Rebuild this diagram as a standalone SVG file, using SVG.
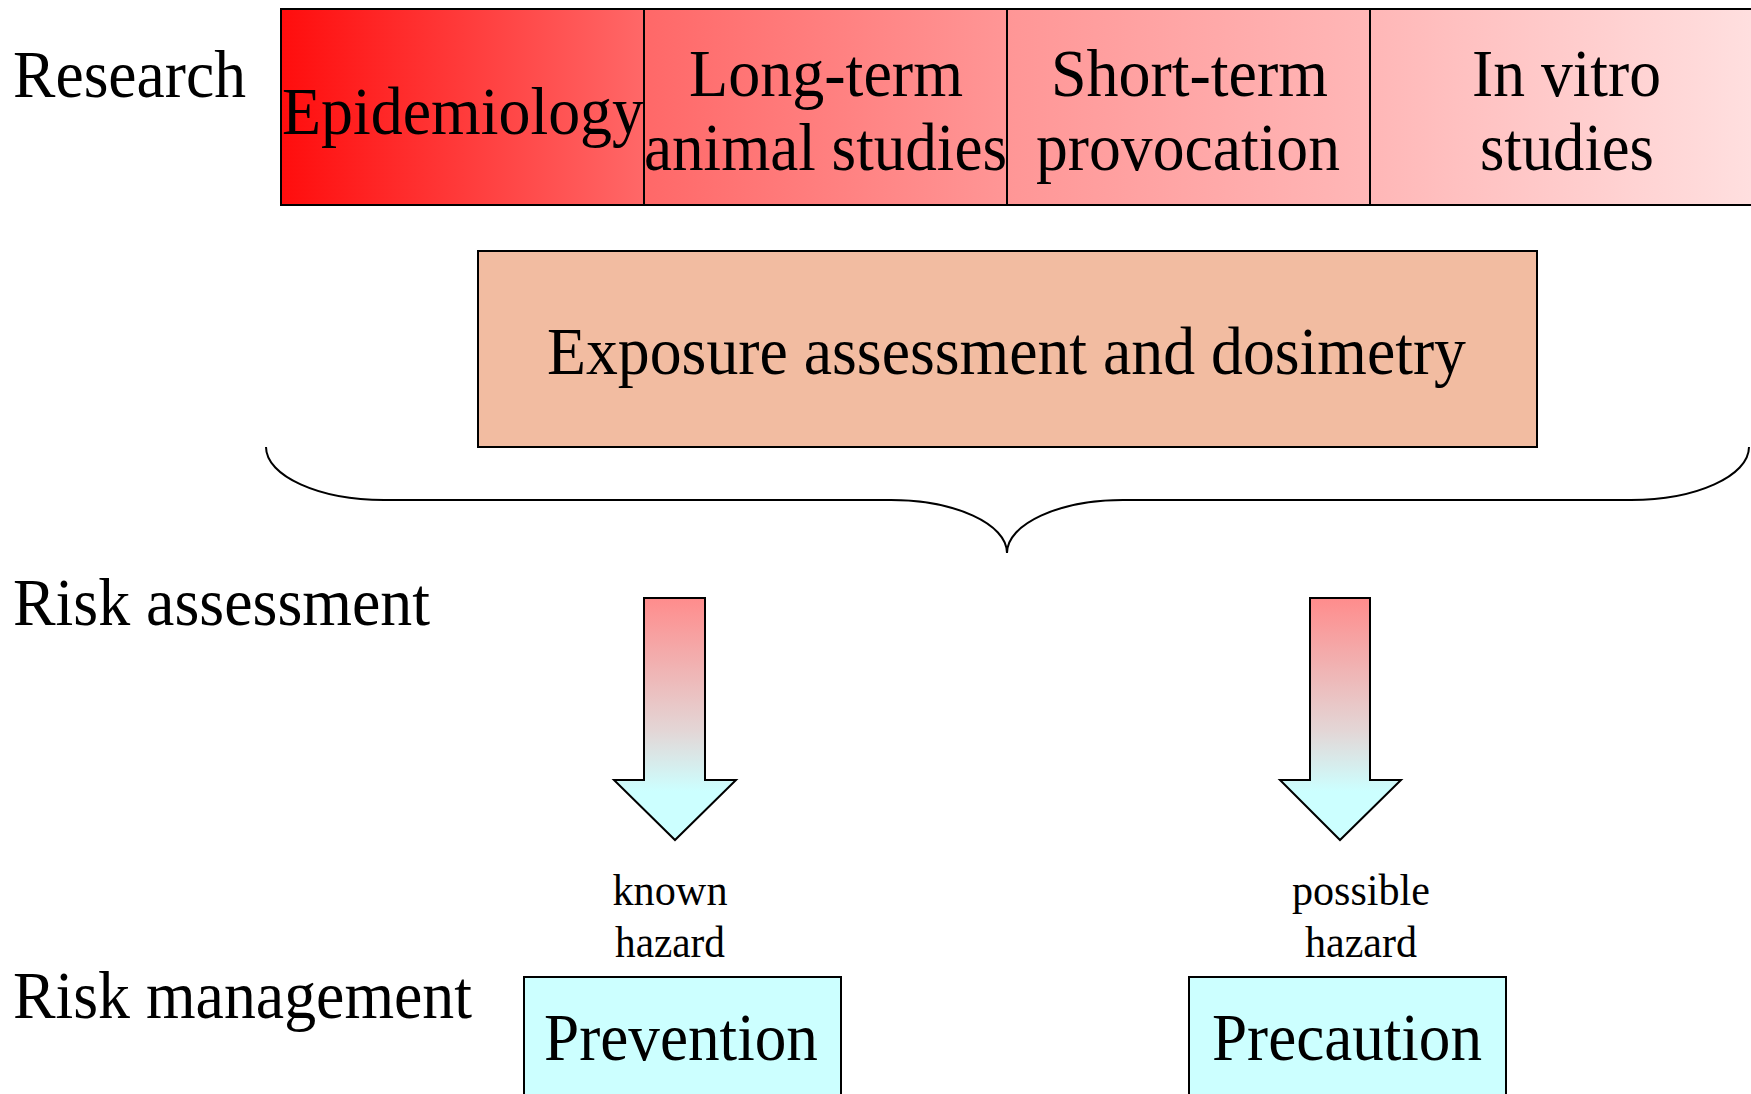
<svg xmlns="http://www.w3.org/2000/svg" width="1751" height="1094" viewBox="0 0 1751 1094">
<style>
text{font-family:"Liberation Serif","Times New Roman",serif;fill:#000}
.big{font-size:68px}
.small{font-size:45px}
.box{stroke:#000;stroke-width:2}
.c{text-anchor:middle}
</style>
<defs>
<linearGradient id="barGrad" gradientUnits="userSpaceOnUse" x1="281" y1="0" x2="1751" y2="0">
<stop offset="0" stop-color="#ff0d0d"/>
<stop offset="0.247" stop-color="#ff6868"/>
<stop offset="0.494" stop-color="#ff9696"/>
<stop offset="0.741" stop-color="#ffb7b7"/>
<stop offset="1" stop-color="#ffdfdf"/>
</linearGradient>
<linearGradient id="arrowGrad" x1="0" y1="0" x2="0" y2="1">
<stop offset="0" stop-color="#ff8c8c"/>
<stop offset="0.55" stop-color="#e3d6d6"/>
<stop offset="0.8" stop-color="#ccffff"/>
<stop offset="1" stop-color="#ccffff"/>
</linearGradient>
</defs>
<rect width="1751" height="1094" fill="#fff"/>

<g id="labels">
<text class="big" x="13" y="97" textLength="233" lengthAdjust="spacingAndGlyphs">Research</text>
<text class="big" x="13" y="625" textLength="417" lengthAdjust="spacingAndGlyphs">Risk assessment</text>
<text class="big" x="13" y="1018" textLength="459" lengthAdjust="spacingAndGlyphs">Risk management</text>
</g>

<g id="research-bar">
<rect x="281" y="9" width="1472" height="196" fill="url(#barGrad)" class="box"/>
</g>
<g id="epidemiology">
<rect x="281" y="9" width="363" height="196" fill="none" class="box"/>
<text class="big" x="282" y="134" textLength="362" lengthAdjust="spacingAndGlyphs">Epidemiology</text>
</g>
<g id="long-term">
<rect x="644" y="9" width="363" height="196" fill="none" class="box"/>
<text class="big" x="689" y="96" textLength="274" lengthAdjust="spacingAndGlyphs">Long-term</text>
<text class="big" x="644" y="170" textLength="363" lengthAdjust="spacingAndGlyphs">animal studies</text>
</g>
<g id="short-term">
<rect x="1007" y="9" width="363" height="196" fill="none" class="box"/>
<text class="big" x="1051" y="96" textLength="277" lengthAdjust="spacingAndGlyphs">Short-term</text>
<text class="big" x="1036" y="170" textLength="304" lengthAdjust="spacingAndGlyphs">provocation</text>
</g>
<g id="in-vitro">
<text class="big" x="1472" y="96" textLength="189" lengthAdjust="spacingAndGlyphs">In vitro</text>
<text class="big" x="1480" y="170" textLength="174" lengthAdjust="spacingAndGlyphs">studies</text>
</g>

<g id="exposure">
<rect x="478" y="251" width="1059" height="196" fill="#f2bca1" class="box"/>
<text class="big" x="547" y="374" textLength="919" lengthAdjust="spacingAndGlyphs">Exposure assessment and dosimetry</text>
</g>

<g id="connectors">
<path id="brace" d="M266,447 C266,476 319,500 384,500 L891,500 C955,500 1007,524 1007,553 C1007,524 1059,500 1123,500 L1631,500 C1696,500 1749,476 1749,447" fill="none" stroke="#000" stroke-width="2"/>
<path id="arrow-left" d="M644,598 L705,598 L705,780 L736,780 L675,840 L614,780 L644,780 Z" fill="url(#arrowGrad)" stroke="#000" stroke-width="2" stroke-linejoin="miter"/>
<path id="arrow-right" d="M1310,598 L1370,598 L1370,780 L1401,780 L1340,840 L1280,780 L1310,780 Z" fill="url(#arrowGrad)" stroke="#000" stroke-width="2" stroke-linejoin="miter"/>
<text class="small c" x="670" y="905" textLength="115" lengthAdjust="spacingAndGlyphs">known</text>
<text class="small c" x="670" y="957" textLength="110" lengthAdjust="spacingAndGlyphs">hazard</text>
<text class="small c" x="1361" y="905" textLength="138" lengthAdjust="spacingAndGlyphs">possible</text>
<text class="small c" x="1361" y="957" textLength="112" lengthAdjust="spacingAndGlyphs">hazard</text>
</g>

<g id="prevention">
<rect x="524" y="977" width="317" height="130" fill="#ccffff" class="box"/>
<text class="big c" x="681" y="1060" textLength="274" lengthAdjust="spacingAndGlyphs">Prevention</text>
</g>
<g id="precaution">
<rect x="1189" y="977" width="317" height="130" fill="#ccffff" class="box"/>
<text class="big c" x="1347" y="1060" textLength="270" lengthAdjust="spacingAndGlyphs">Precaution</text>
</g>
</svg>
